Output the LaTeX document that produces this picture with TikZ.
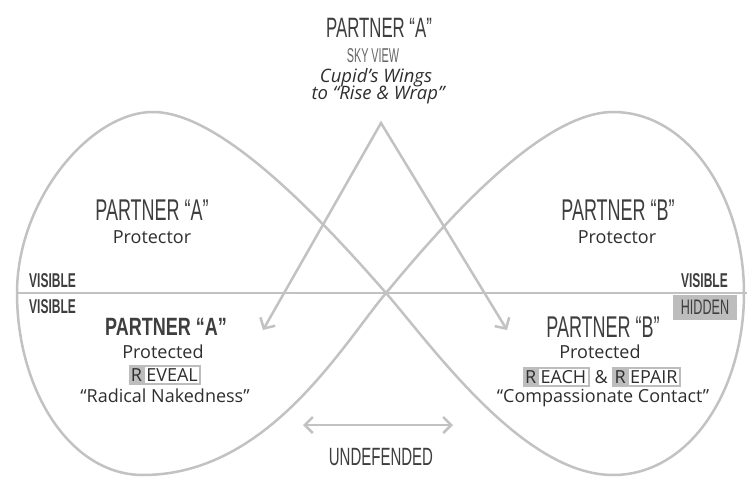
\documentclass[tikz,border=0pt]{standalone}
\usepackage{fontspec}
\setmainfont{Open Sans}
\newfontfamily\cond[FakeStretch=0.6]{Liberation Sans}
\newfontfamily\condn[FakeStretch=0.54]{Liberation Sans}
\newfontfamily\condw[FakeStretch=0.72]{Liberation Sans}
\usetikzlibrary{arrows.meta}
\definecolor{linegray}{HTML}{C2C2C2}
\definecolor{boxgray}{HTML}{BDBDBD}
\definecolor{txt}{HTML}{2E2E2E}
\definecolor{headc}{HTML}{3E3E3E}
\definecolor{skyc}{HTML}{666666}
\newcommand{\rbox}[1]{{\setlength{\fboxsep}{2.2pt}\colorbox{boxgray}{R\hspace{3pt}{\setlength{\fboxsep}{1.4pt}\colorbox{white}{#1}}}}}
\begin{document}
\begin{tikzpicture}[x=1pt,y=-1pt,
  loopline/.style={draw=linegray, line width=2.5pt},
  barb/.style={draw=linegray, line width=2.5pt},
  head/.style={font=\cond\fontsize{30}{32}\selectfont, text=headc, inner sep=0pt, anchor=base},
  headtop/.style={head, font=\cond\fontsize{28}{30}\selectfont},
  headb/.style={font=\condw\bfseries\fontsize{25}{27}\selectfont, text=headc, inner sep=0pt, anchor=base},
  sky/.style={font=\condn\fontsize{20}{22}\selectfont, text=skyc, inner sep=0pt, anchor=base},
  vis/.style={font=\cond\bfseries\fontsize{20}{22}\selectfont, text=headc, inner sep=0pt},
  bodyt/.style={font=\fontsize{18}{20}\selectfont, text=txt, inner sep=0pt, anchor=base},
  ital/.style={font=\itshape\fontsize{18.5}{20}\selectfont, text=txt, inner sep=0pt, anchor=base},
  hid/.style={fill=boxgray, font=\cond\fontsize{21}{23}\selectfont, text=headc, minimum width=64pt, minimum height=25pt, inner sep=0pt}
]
\useasboundingbox (0,0) rectangle (747,477);
% crossing point
\coordinate (C) at (386,293);
% infinity loop
\draw[loopline, line join=round]
  (C) .. controls (305,200) and (215,112) .. (153,112)
      .. controls (90,112) and (17,200) .. (17,293)
      .. controls (17,390) and (70,475) .. (143,475)
      .. controls (267,475) and (341,347) .. (C)
      .. controls (440,228) and (540,112) .. (613,112)
      .. controls (690,112) and (744,200) .. (744,293)
      .. controls (744,390) and (690,475) .. (613,475)
      .. controls (523,475) and (432,346) .. (C);
% horizon line
\coordinate (hl) at (17,293);
\coordinate (hr) at (747,293);
\draw[loopline] (hl) -- (hr);
% cupid's wings arrows
\coordinate (apex) at (381,123);
\coordinate (ltip) at (263,330);
\coordinate (rtip) at (507,330);
\draw[barb, line join=miter, {Straight Barb[length=8pt,width=17pt]}-{Straight Barb[length=8pt,width=17pt]}] (ltip) -- (apex) -- (rtip);
% undefended arrow
\coordinate (ua) at (303,425);
\coordinate (ub) at (453,425);
\draw[barb, {Straight Barb[length=8pt,width=16pt]}-{Straight Barb[length=8pt,width=16pt]}] (ua) -- (ub);

% top texts
\node[headtop] (topA) at (379,37) {PARTNER “A”};
\node[sky] (skyv) at (373,62) {SKY VIEW};
\node[ital] (cupid) at (376,82) {Cupid’s Wings};
\node[ital] (rise) at (378,99) {to “Rise \& Wrap”};

% left upper
\node[head] (lA) at (152,220) {PARTNER “A”};
\node[bodyt] (lprot) at (152,243) {Protector};
\node[vis, anchor=base west] (vis1) at (29,287) {VISIBLE};
\node[vis, anchor=base west] (vis2) at (29,313) {VISIBLE};

% left lower
\node[headb] (lA2) at (166,335) {PARTNER “A”};
\node[bodyt] (lpd) at (163,358) {Protected};
\node[bodyt, anchor=center] (reveal) at (165,375) {\rbox{EVEAL}};
\node[bodyt] (rad) at (165,402) {“Radical Nakedness”};

% right upper
\node[head] (rB) at (618,220) {PARTNER “B”};
\node[bodyt] (rprot) at (617,243) {Protector};
\node[vis, anchor=base east] (vis3) at (728,287) {VISIBLE};
\node[hid] (hidden) at (705,307.5) {HIDDEN};

% right lower
\node[head] (rB2) at (603,337) {PARTNER “B”};
\node[bodyt] (rpd) at (600,358) {Protected};
\node[bodyt, anchor=center] (reach) at (602,377) {\rbox{EACH} \& \rbox{EPAIR}};
\node[bodyt] (comp) at (603,402) {“Compassionate Contact”};

% bottom
\node[head, font=\cond\fontsize{25}{27}\selectfont] (und) at (381,465) {UNDEFENDED};
\end{tikzpicture}
\end{document}
